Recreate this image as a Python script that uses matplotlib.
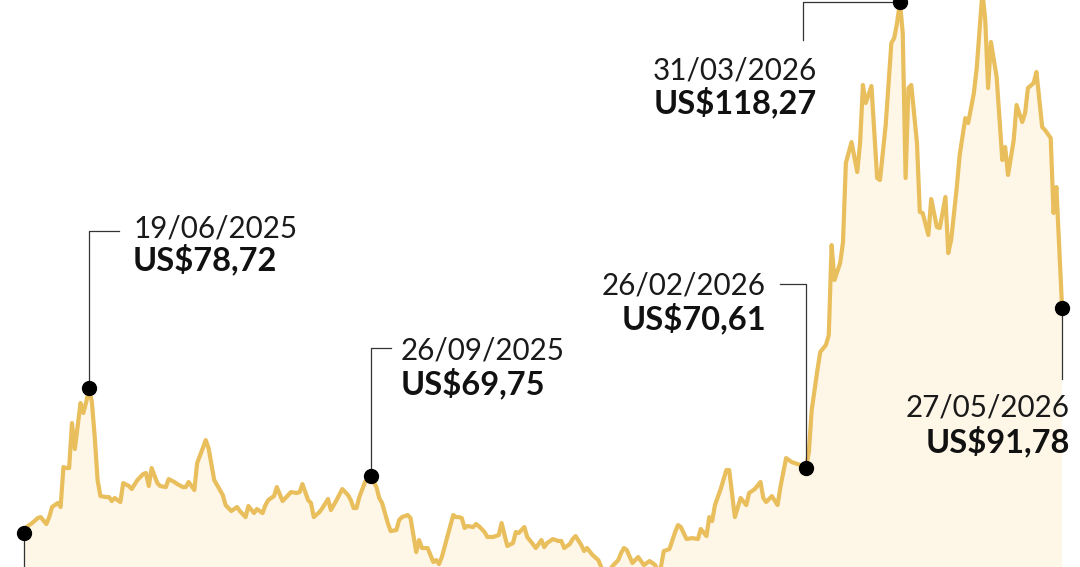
import matplotlib
matplotlib.use("Agg")
import matplotlib.pyplot as plt
import matplotlib.dates as mdates
from matplotlib.lines import Line2D
from matplotlib.transforms import IdentityTransform
import pandas as pd

# daily closes, days counted from the first date
start = pd.Timestamp("2025-05-27")
day_offsets = [
    0, 1, 3, 5, 6, 8, 9, 10, 12, 13,
    14, 15, 16, 17, 18, 20, 21, 22, 23, 24,
    25, 26, 27, 29, 30, 31, 32, 34, 35, 37,
    38, 40, 42, 43, 44, 45, 47, 48, 50, 51,
    53, 54, 56, 57, 58, 60, 61, 63, 64, 65,
    67, 68, 70, 71, 73, 75, 76, 78, 79, 81,
    82, 84, 85, 86, 88, 89, 91, 93, 94, 96,
    97, 98, 100, 101, 102, 104, 105, 107, 108, 109,
    110, 112, 114, 115, 116, 117, 118, 120, 122, 124,
    125, 126, 128, 129, 131, 132, 133, 135, 136, 138,
    139, 140, 142, 144, 145, 146, 147, 151, 152, 153,
    154, 155, 156, 158, 159, 160, 162, 163, 165, 167,
    168, 170, 172, 173, 174, 176, 177, 179, 180, 182,
    183, 184, 186, 188, 189, 190, 192, 193, 194, 196,
    197, 198, 200, 202, 203, 204, 205, 207, 209, 210,
    211, 212, 214, 216, 217, 218, 220, 222, 223, 224,
    225, 227, 229, 230, 231, 233, 235, 237, 238, 240,
    241, 242, 243, 245, 247, 248, 250, 252, 254, 255,
    257, 259, 260, 261, 263, 265, 266, 268, 270, 273,
    275, 276, 277, 279, 280, 282, 283, 284, 285, 287,
    288, 289, 291, 293, 294, 295, 296, 298, 300, 301,
    303, 305, 306, 307, 308, 309, 310, 311, 312, 314,
    315, 316, 318, 319, 321, 322, 324, 325, 326, 328,
    329, 331, 332, 334, 335, 337, 338, 339, 340, 342,
    344, 345, 346, 348, 349, 351, 352, 353, 355, 356,
    358, 359, 361, 362, 363, 365,
]
prices = [
    63.92, 64.53, 64.94, 65.45, 65.55, 64.84, 65.55, 66.58, 66.99, 66.58,
    70.67, 70.57, 70.57, 75.17, 72.51, 77.22, 76.20, 77.32, 78.72, 77.32,
    73.74, 69.34, 67.70, 67.60, 67.60, 67.19, 67.50, 67.09, 69.03, 68.73,
    68.42, 69.34, 69.95, 70.06, 68.73, 70.57, 69.03, 68.73, 68.62, 69.44,
    69.14, 68.93, 68.62, 68.62, 69.14, 68.32, 71.08, 72.62, 73.43, 72.62,
    69.34, 68.83, 67.81, 66.78, 66.17, 66.58, 66.17, 65.55, 66.68, 65.96,
    66.37, 65.96, 66.78, 67.29, 67.70, 68.62, 67.19, 67.81, 68.11, 68.01,
    68.11, 68.93, 67.29, 66.99, 65.55, 66.07, 66.47, 67.40, 66.27, 66.78,
    67.29, 68.42, 67.81, 67.29, 66.47, 66.47, 67.60, 69.14, 69.75, 68.62,
    67.50, 66.99, 64.94, 64.12, 64.22, 65.25, 65.55, 65.76, 65.45, 61.97,
    63.20, 62.38, 62.38, 60.95, 61.15, 60.74, 61.46, 65.76, 65.55, 65.55,
    65.45, 64.43, 64.63, 64.53, 64.84, 64.63, 64.02, 63.51, 63.51, 63.71,
    64.94, 62.59, 62.89, 64.02, 63.92, 64.53, 63.51, 62.79, 62.38, 63.20,
    62.48, 62.89, 63.30, 63.10, 63.10, 62.38, 62.79, 63.30, 63.61, 62.69,
    62.07, 62.38, 61.66, 61.15, 60.44, 59.92, 59.72, 60.54, 61.15, 61.87,
    62.38, 62.18, 60.85, 61.46, 61.05, 60.64, 61.05, 60.64, 59.92, 60.44,
    62.07, 62.28, 64.02, 64.73, 64.53, 63.30, 63.40, 63.30, 64.33, 63.61,
    65.55, 65.14, 66.78, 68.42, 70.36, 70.36, 65.55, 67.50, 66.78, 68.01,
    68.42, 69.14, 67.50, 67.09, 67.70, 66.78, 68.62, 71.59, 71.18, 70.88,
    70.61, 72.21, 76.51, 80.60, 82.44, 83.16, 84.18, 93.39, 89.81, 91.55,
    93.70, 101.79, 103.93, 100.86, 103.83, 109.77, 107.93, 109.67, 100.25, 100.05,
    105.67, 114.07, 114.58, 116.11, 118.27, 115.09, 100.25, 109.46, 109.77, 103.83,
    96.77, 96.67, 94.42, 98.10, 95.24, 95.13, 98.31, 92.57, 93.90, 99.33,
    102.60, 106.39, 105.88, 108.95, 111.51, 119.29, 116.42, 109.46, 114.17, 110.59,
    102.09, 103.42, 100.56, 104.14, 107.72, 105.98, 106.90, 109.46, 109.97, 111.10,
    105.47, 105.16, 104.34, 96.67, 99.33, 86.95,
]

# highlighted points and their labels
mark_dates = ["2025-05-27", "2025-06-19", "2025-09-26", "2026-02-26", "2026-03-31", "2026-05-27"]
mark_days = ["", "19/06/2025", "26/09/2025", "26/02/2026", "31/03/2026", "27/05/2026"]
mark_prices = ["", "US$78,72", "US$69,75", "US$70,61", "US$118,27", "US$91,78"]

# leader lines (pixel offsets from the dot), label anchor and alignment
leaders = [
    [(0, 0), (0, -60)],
    [(0, 0), (0, 157), (30, 157)],
    [(0, 0), (0, 128), (20, 128)],
    [(0, 0), (0, 184), (-26, 184)],
    [(0, 0), (-97, 0), (-97, -38)],
    [(0, 0), (0, -71)],
]
label_pos = [None, (44, 151, 118), (30, 117, 82), (-40, 173, 138),
             (-83, -78, -111), (8, -109, -144)]
label_ha = [None, "left", "left", "right", "right", "right"]

LINE = "#E9BE5C"
FILL = "#FEF6E6"
INK = "#111111"

dates = start + pd.to_timedelta(day_offsets, unit="D")
series = pd.Series(prices, index=dates)

fig = plt.figure(figsize=(10.8, 5.67), dpi=100)
ax = fig.add_axes([0, 0, 1, 1])
ax.axis("off")

x0 = mdates.date2num(start)
ax.set_xlim(x0 - 8.3, x0 + 371.3)
ax.set_ylim(60.44, 118.47)

ax.fill_between(dates, prices, 40, color=FILL, lw=0, zorder=1)
ax.plot(dates, prices, color=LINE, lw=3.0, solid_joinstyle="round", zorder=2)

for i, d in enumerate(mark_dates):
    d = pd.Timestamp(d)
    v = series[d]
    px, py = ax.transData.transform((mdates.date2num(d), v))
    xs = [px + dx for dx, dy in leaders[i]]
    ys = [py + dy for dx, dy in leaders[i]]
    ax.add_line(Line2D(xs, ys, transform=IdentityTransform(),
                       color="#333333", lw=0.9, zorder=3))
    ax.plot([d], [v], "o", color="black", ms=10, zorder=4, clip_on=False)
    if label_pos[i] is None:
        continue
    dx, dy1, dy2 = label_pos[i]
    ax.text(px + dx, py + dy1, mark_days[i], transform=IdentityTransform(),
            ha=label_ha[i], va="baseline", fontsize=21.3, fontfamily="Lato",
            fontweight="normal", color="#1a1a1a")
    ax.text(px + dx, py + dy2, mark_prices[i], transform=IdentityTransform(),
            ha=label_ha[i], va="baseline", fontsize=23.5, fontfamily="Lato",
            fontweight="bold", color=INK)

fig.savefig("out.png", dpi=100, facecolor="white")
